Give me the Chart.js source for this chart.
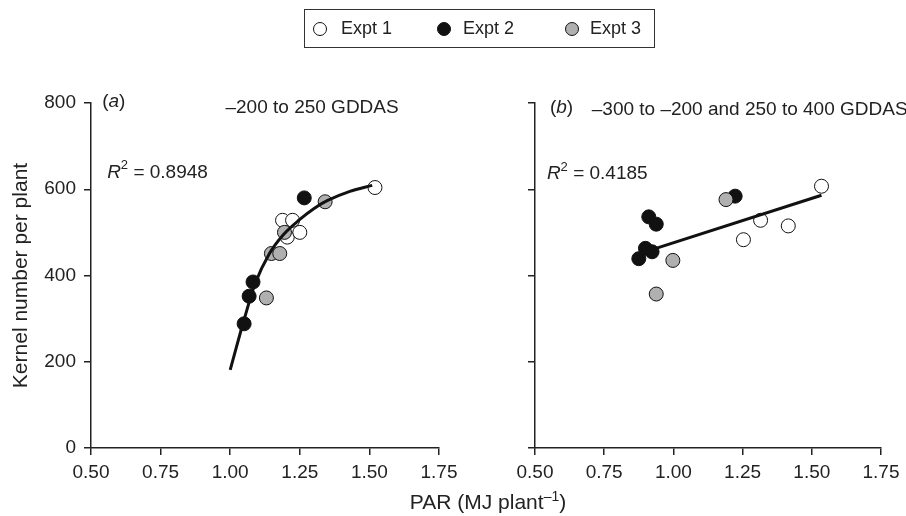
<!DOCTYPE html>
<html>
<head>
<meta charset="utf-8">
<script src="https://cdn.jsdelivr.net/npm/chart.js@4.4.1/dist/chart.umd.min.js"></script>
<style>
  body { margin: 0; background: #fff; }
  #wrap { position: relative; width: 906px; height: 516px; font-family: "Liberation Sans", Arial, sans-serif; color: #222; }
  canvas { position: absolute; left: 0; top: 0; }
  #legend { position: absolute; left: 304px; top: 9px; width: 349px; height: 37px; border: 1.5px solid #333; }
  .item { position: absolute; top: 0; height: 37px; line-height: 37px; font-size: 18px; }
  .dot { position: absolute; top: 12px; width: 12px; height: 12px; border-radius: 50%; border: 1px solid #111; }
  #xtitle { position: absolute; left: 0; width: 976px; top: 491px; text-align: center; font-size: 21px; line-height: 21px; }
  #xtitle span { font-size: 14px; position: relative; top: -8px; }
</style>
</head>
<body>
<div id="wrap">
  <canvas id="panelA" width="906" height="516"></canvas>
  <canvas id="panelB" width="906" height="516"></canvas>
  <div id="legend"></div>
  <div id="xtitle">PAR (MJ plant<span>–1</span>)</div>
</div>
<script>
// axis ticks
const xTicks = [0.5, 0.75, 1.0, 1.25, 1.5, 1.75];
const xTickLabels = ['0.50', '0.75', '1.00', '1.25', '1.50', '1.75'];
const yTicks = [0, 200, 400, 600, 800];
const yTickLabels = ['0', '200', '400', '600', '800'];

const seriesNames = ['Expt 1', 'Expt 2', 'Expt 3'];

// (a) -200 to 250 GDDAS
const a_expt1_x = [1.188, 1.224, 1.205, 1.25, 1.52];
const a_expt1_y = [528, 528, 489, 500, 604];
const a_expt2_x = [1.05, 1.068, 1.082, 1.266];
const a_expt2_y = [288, 352, 385, 580];
const a_expt3_x = [1.13, 1.148, 1.178, 1.195, 1.341];
const a_expt3_y = [348, 451, 451, 500, 571];
const a_fit_x = [1.00, 1.05, 1.09, 1.14, 1.19, 1.25, 1.30, 1.35, 1.43, 1.51];
const a_fit_y = [181, 298, 382, 450, 494, 530, 555, 574, 595, 609];

// (b) -300 to -200 and 250 to 400 GDDAS
const b_expt1_x = [1.253, 1.315, 1.415, 1.535];
const b_expt1_y = [483, 528, 515, 607];
const b_expt2_x = [0.911, 0.938, 0.899, 0.875, 0.923, 1.223];
const b_expt2_y = [536, 519, 463, 439, 455, 584];
const b_expt3_x = [0.998, 0.938, 1.19];
const b_expt3_y = [435, 357, 576];
const b_fit_x = [0.875, 1.535];
const b_fit_y = [450, 586];

const panelLetters = ['a', 'b'];
const periodLabels = ['–200 to 250 GDDAS', '–300 to –200 and 250 to 400 GDDAS'];
const rSquared = ['0.8948', '0.4185'];

const FONT = '"Liberation Sans", Arial, sans-serif';
const fills = ['#ffffff', '#111111', '#b0b0b0'];

// html legend
const legend = document.getElementById('legend');
const legendPos = [[8, 36], [132, 158], [260, 285]];
seriesNames.forEach((name, i) => {
  const dot = document.createElement('div');
  dot.className = 'dot';
  dot.style.left = legendPos[i][0] + 'px';
  dot.style.background = fills[i];
  legend.appendChild(dot);
  const txt = document.createElement('div');
  txt.className = 'item';
  txt.style.left = legendPos[i][1] + 'px';
  txt.textContent = name;
  legend.appendChild(txt);
});

const pts = (xs, ys) => xs.map((x, i) => ({x: x, y: ys[i]}));

// text annotations drawn in data coordinates
const notesPlugin = {
  id: 'notes',
  afterDraw(chart, args, opts) {
    const ctx = chart.ctx;
    const xs = chart.scales.x, ys = chart.scales.y;
    ctx.save();
    ctx.fillStyle = '#222';
    ctx.textBaseline = 'middle';
    ctx.textAlign = 'left';
    opts.items.forEach(item => {
      let px = xs.getPixelForValue(item.x);
      const py = ys.getPixelForValue(item.y);
      item.parts.forEach(p => {
        const size = p.sup ? 13 : 19;
        ctx.font = (p.italic ? 'italic ' : '') + size + 'px ' + FONT;
        ctx.fillText(p.t, px, p.sup ? py - 7 : py);
        px += ctx.measureText(p.t).width;
      });
    });
    ctx.restore();
  }
};

function makeChart(id, k, sets, fit, notes, geom) {
  const datasets = [{
    data: pts(fit[0], fit[1]),
    showLine: true,
    borderColor: '#111',
    borderWidth: 3,
    pointRadius: 0,
    cubicInterpolationMode: 'monotone',
    order: 0
  }];
  sets.forEach((s, i) => {
    datasets.push({
      label: seriesNames[i],
      data: pts(s[0], s[1]),
      pointRadius: 7,
      pointBorderWidth: 1,
      pointBorderColor: '#111',
      pointBackgroundColor: fills[i],
      order: 3 - i
    });
  });
  const axisLine = {display: true, color: '#222', width: 1.5};
  const tickGrid = {drawOnChartArea: false, drawTicks: true, tickLength: 7, color: '#222', lineWidth: 1.5};
  return new Chart(document.getElementById(id), {
    type: 'scatter',
    data: {datasets: datasets},
    plugins: [notesPlugin],
    options: {
      responsive: false,
      animation: false,
      devicePixelRatio: 1,
      layout: {padding: {left: 0, right: geom.right, top: 103, bottom: 28}},
      plugins: {
        legend: {display: false},
        tooltip: {enabled: false},
        notes: {items: notes}
      },
      scales: {
        x: {
          type: 'linear',
          min: 0.5, max: 1.75,
          border: axisLine,
          grid: tickGrid,
          afterBuildTicks: s => { s.ticks = xTicks.map(v => ({value: v})); },
          afterFit: s => { s.height = 40; },
          ticks: {
            color: '#222', padding: 6,
            font: {size: 19, family: FONT},
            callback: v => xTickLabels[xTicks.indexOf(v)]
          }
        },
        y: {
          type: 'linear',
          min: 0, max: 800,
          border: axisLine,
          grid: tickGrid,
          afterBuildTicks: s => { s.ticks = yTicks.map(v => ({value: v})); },
          afterFit: s => { s.width = geom.left; },
          title: {
            display: k === 0,
            text: 'Kernel number per plant',
            color: '#222',
            font: {size: 21, family: FONT},
            padding: {top: 9, bottom: 0}
          },
          ticks: {
            display: k === 0,
            color: '#222', padding: 8,
            font: {size: 19, family: FONT},
            callback: v => yTickLabels[yTicks.indexOf(v)]
          }
        }
      }
    }
  });
}

makeChart('panelA', 0,
  [[a_expt1_x, a_expt1_y], [a_expt2_x, a_expt2_y], [a_expt3_x, a_expt3_y]],
  [a_fit_x, a_fit_y],
  [
    {x: 0.54, y: 803, parts: [{t: '('}, {t: panelLetters[0], italic: true}, {t: ')'}]},
    {x: 0.983, y: 788, parts: [{t: periodLabels[0]}]},
    {x: 0.558, y: 639, parts: [{t: 'R', italic: true}, {t: '2', sup: true}, {t: ' = ' + rSquared[0]}]}
  ],
  {left: 91, right: 467});

makeChart('panelB', 1,
  [[b_expt1_x, b_expt1_y], [b_expt2_x, b_expt2_y], [b_expt3_x, b_expt3_y]],
  [b_fit_x, b_fit_y],
  [
    {x: 0.554, y: 789, parts: [{t: '('}, {t: panelLetters[1], italic: true}, {t: ')'}]},
    {x: 0.705, y: 785, parts: [{t: periodLabels[1]}]},
    {x: 0.543, y: 635, parts: [{t: 'R', italic: true}, {t: '2', sup: true}, {t: ' = ' + rSquared[1]}]}
  ],
  {left: 535, right: 25});
</script>
</body>
</html>
